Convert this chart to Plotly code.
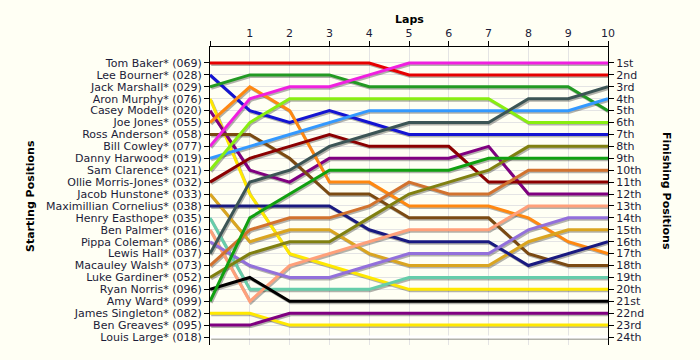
import plotly.graph_objects as go

laps = list(range(11))
lap_labels = ["", "1", "2", "3", "4", "5", "6", "7", "8", "9", "10"]

drivers = [
    "Tom Baker* (069)", "Lee Bourner* (028)", "Jack Marshall* (029)", "Aron Murphy* (076)",
    "Casey Modell* (020)", "Joe Jones* (055)", "Ross Anderson* (058)", "Bill Cowley* (077)",
    "Danny Harwood* (019)", "Sam Clarence* (021)", "Ollie Morris-Jones* (032)", "Jacob Hunstone* (033)",
    "Maximillian Cornelius* (038)", "Henry Easthope* (035)", "Ben Palmer* (016)", "Pippa Coleman* (086)",
    "Lewis Hall* (037)", "Macauley Walsh* (073)", "Luke Gardiner* (052)", "Ryan Norris* (096)",
    "Amy Ward* (099)", "James Singleton* (082)", "Ben Greaves* (095)", "Louis Large* (018)",
]

finish_labels = ["1st", "2nd", "3rd", "4th", "5th", "6th", "7th", "8th", "9th", "10th", "11th", "12th",
                 "13th", "14th", "15th", "16th", "17th", "18th", "19th", "20th", "21st", "22nd", "23rd", "24th"]

tom_baker = [1, 1, 1, 1, 1, 2, 2, 2, 2, 2, 2]
lee_bourner = [2, 5, 6, 5, 6, 7, 7, 7, 7, 7, 7]
jack_marshall = [3, 2, 2, 2, 3, 3, 3, 3, 3, 3, 5]
aron_murphy = [4, 12, 17, 18, 19, 20, 20, 20, 20, 20, 20]
casey_modell = [5, 10, 11, 9, 9, 9, 9, 8, 12, 12, 12]
joe_jones = [6, 3, 5, 11, 11, 13, 13, 13, 14, 16, 17]
ross_anderson = [7, 7, 9, 12, 12, 14, 14, 14, 17, 18, 18]
bill_cowley = [8, 4, 3, 3, 2, 1, 1, 1, 1, 1, 1]
danny_harwood = [9, 8, 7, 6, 5, 5, 5, 5, 5, 5, 4]
sam_clarence = [10, 6, 4, 4, 4, 4, 4, 4, 6, 6, 6]
ollie_morris_jones = [11, 9, 8, 7, 8, 8, 8, 11, 11, 11, 11]
jacob_hunstone = [12, 16, 15, 15, 17, 18, 18, 18, 16, 15, 15]
max_cornelius = [13, 13, 13, 13, 15, 16, 16, 16, 18, 17, 16]
henry_easthope = [14, 20, 20, 20, 20, 19, 19, 19, 19, 19, 19]
ben_palmer = [15, 21, 18, 17, 16, 15, 15, 15, 13, 13, 13]
pippa_coleman = [16, 18, 19, 19, 18, 17, 17, 17, 15, 14, 14]
lewis_hall = [17, 11, 10, 8, 7, 6, 6, 6, 4, 4, 3]
macauley_walsh = [18, 15, 14, 14, 13, 11, 12, 12, 10, 10, 10]
luke_gardiner = [19, 17, 16, 16, 14, 12, 11, 10, 8, 8, 8]
ryan_norris = [20, 19, 21, 21, 21, 21, 21, 21, 21, 21, 21]
amy_ward = [21, 14, 12, 10, 10, 10, 10, 9, 9, 9, 9]
james_singleton = [22, 22, 23, 23, 23, 23, 23, 23, 23, 23, 23]
ben_greaves = [23, 23, 22, 22, 22, 22, 22, 22, 22, 22, 22]
louis_large = [24, 24, 24, 24, 24, 24, 24, 24, 24, 24, 24]

positions = [tom_baker, lee_bourner, jack_marshall, aron_murphy, casey_modell, joe_jones,
             ross_anderson, bill_cowley, danny_harwood, sam_clarence, ollie_morris_jones,
             jacob_hunstone, max_cornelius, henry_easthope, ben_palmer, pippa_coleman,
             lewis_hall, macauley_walsh, luke_gardiner, ryan_norris, amy_ward,
             james_singleton, ben_greaves, louis_large]

colors = ["#E60000", "#1414D2", "#229A22", "#FFE800", "#800080", "#FF8811",
          "#7B4A12", "#F020E0", "#3399FF", "#88EE11", "#8B0000",
          "#DAA520", "#1A1A80", "#66CDAA", "#FFA07A", "#9370DB",
          "#3C5555", "#D2722E", "#808010", "#000000", "#10A010",
          "#FFE800", "#800080", "#FFFFFF"]

# geometry
W, H = 700, 360
ml, mr, mt, mb = 210, 92, 47, 15
pw, ph = W - ml - mr, H - mt - mb
y_lo, y_hi = 24.67, -0.34
px_lap = pw / 10.0
px_pos = ph / (y_lo - y_hi)
dx = 1.2 / px_lap
dy = 1.5 / px_pos

font_fam = "DejaVu Sans, Liberation Sans, Arial, sans-serif"
txt_col = "#1c1c38"
tick_font = dict(family=font_fam, size=11, color=txt_col)

fig = go.Figure()

# shadows (main hidden axes, shifted range)
for pos in positions:
    fig.add_trace(go.Scatter(x=laps, y=pos, mode="lines", xaxis="x", yaxis="y",
                             line=dict(color="rgba(0,0,0,0.30)", width=3),
                             hoverinfo="skip", showlegend=False))

# main lines
for name, pos, col in zip(drivers, positions, colors):
    fig.add_trace(go.Scatter(x=laps, y=pos, mode="lines", xaxis="x2", yaxis="y2",
                             name=name, line=dict(color=col, width=3), showlegend=False))

# anchor trace for the right axis
fig.add_trace(go.Scatter(x=laps, y=louis_large, mode="lines", xaxis="x2", yaxis="y3",
                         line=dict(color="rgba(0,0,0,0)", width=0), hoverinfo="skip",
                         showlegend=False))

fig.update_layout(
    width=W, height=H,
    margin=dict(l=ml, r=mr, t=mt, b=mb, autoexpand=False),
    paper_bgcolor="#FFFFF4", plot_bgcolor="#FFFFF4",
    font=dict(family=font_fam, size=11, color=txt_col),
    showlegend=False,
    xaxis=dict(range=[-dx, 10 - dx], visible=False, showgrid=False, fixedrange=True, automargin=False),
    yaxis=dict(range=[y_lo - dy, y_hi - dy], visible=False, showgrid=False, fixedrange=True, automargin=False),
    xaxis2=dict(overlaying="x", side="top", anchor="y2", range=[0, 10], automargin=False,
                tickmode="array", tickvals=laps, ticktext=lap_labels,
                ticks="outside", ticklen=5, tickcolor="#000000",
                showline=True, linecolor="#000000", linewidth=1,
                showgrid=True, gridcolor="#E4E4E4", gridwidth=1, zeroline=False,
                tickfont=tick_font),
    yaxis2=dict(overlaying="y", side="left", anchor="x2", range=[y_lo, y_hi], automargin=False,
                tickmode="array", tickvals=list(range(1, 25)), ticktext=drivers,
                ticks="outside", ticklen=5, tickcolor="#000000",
                showline=True, linecolor="#000000", linewidth=1,
                showgrid=True, gridcolor="#E4E4E4", gridwidth=1, zeroline=False,
                tickfont=tick_font),
    yaxis3=dict(overlaying="y", side="right", anchor="x2", range=[y_lo, y_hi], automargin=False,
                tickmode="array", tickvals=list(range(1, 25)), ticktext=finish_labels,
                ticks="outside", ticklen=5, tickcolor="#000000",
                showline=True, linecolor="#000000", linewidth=1,
                showgrid=False, zeroline=False,
                tickfont=tick_font),
    annotations=[
        dict(text="<b>Laps</b>", xref="paper", yref="paper", x=0.5, y=1 + (mt - 20) / ph,
             xanchor="center", yanchor="middle", showarrow=False,
             font=dict(family=font_fam, size=11, color="#000000")),
        dict(text="<b>Starting Positions</b>", xref="paper", yref="paper",
             x=(30 - ml) / pw, y=(H - mb - 196) / ph, textangle=-90,
             xanchor="center", yanchor="middle", showarrow=False,
             font=dict(family=font_fam, size=11, color="#000000")),
        dict(text="<b>Finishing Positions</b>", xref="paper", yref="paper",
             x=(667 - ml) / pw, y=(H - mb - 191) / ph, textangle=90,
             xanchor="center", yanchor="middle", showarrow=False,
             font=dict(family=font_fam, size=11, color="#000000")),
    ],
)

fig.write_html("out.html",
               config={"displayModeBar": False},
               post_script="document.body.style.margin='0';document.body.style.padding='0';"
                           "document.body.style.background='#FFFFF4';")
